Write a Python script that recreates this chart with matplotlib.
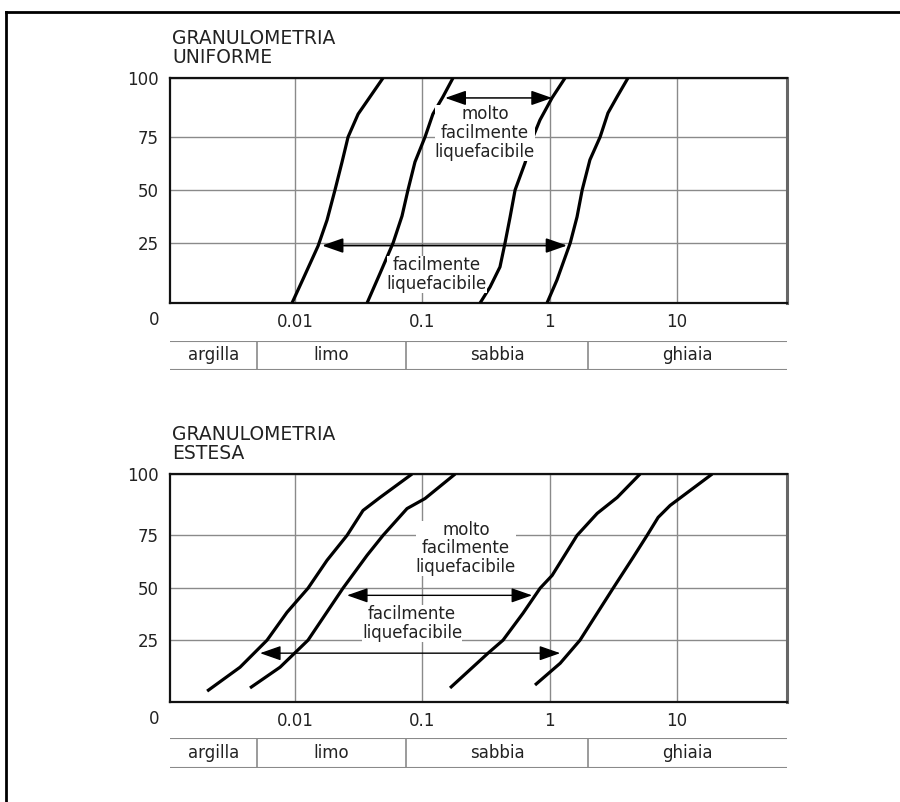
import matplotlib
matplotlib.use('Agg')
import matplotlib.pyplot as plt
from matplotlib.lines import Line2D
import numpy as np

plt.rcParams['font.family'] = ['DejaVu Sans']

# ---------------- data ----------------
x_ticks = [0.01, 0.1, 1, 10]
x_tick_labels = ['0.01', '0.1', '1', '10']
y_ticks = [25, 50, 75]
categories = ['argilla', 'limo', 'sabbia', 'ghiaia']
category_bounds = [0.005, 0.075, 2.0]
x_limits = (10 ** -2.982, 10 ** 1.86)

# top panel: granulometria uniforme
uni_ylim = (-3.3, 102.8)
uni_A_d = [0.00947, 0.01156, 0.01517, 0.01784, 0.0206, 0.0234, 0.0261, 0.0313, 0.0388, 0.0491]
uni_A_p = [-3.3, 8.0, 23.6, 35.8, 50, 63.2, 75, 85.8, 93.9, 102.8]
uni_B_d = [0.0368, 0.0466, 0.0589, 0.0692, 0.0771, 0.0875, 0.105, 0.121, 0.145, 0.174]
uni_B_p = [-3.3, 10.8, 25, 37.7, 50, 63.2, 75, 85.8, 93.9, 102.8]
uni_C_d = [0.284, 0.340, 0.407, 0.446, 0.489, 0.535, 0.640, 0.740, 0.839, 1.043, 1.32]
uni_C_p = [-3.3, 4.2, 13.7, 25, 37.3, 50, 62.7, 75, 83, 93.4, 102.8]
uni_D_d = [0.953, 1.14, 1.45, 1.64, 1.80, 2.07, 2.49, 2.87, 3.38, 4.12]
uni_D_p = [-3.3, 7.5, 25, 37.3, 50, 64.2, 75, 86.3, 93.9, 102.8]
uni_arrow_molto = (0.151, 1.045, 93.4)
uni_arrow_fac = (0.0163, 1.37, 23.8)
uni_text_molto = (0.31, 76.9)
uni_text_fac = (0.130, 10.1)

# bottom panel: granulometria estesa
est_ylim = (-4.5, 104.3)
est_E_d = [0.00204, 0.00370, 0.00603, 0.00865, 0.01265, 0.01783, 0.0256, 0.0342, 0.0465, 0.083]
est_E_p = [0.7, 12.1, 25, 38.3, 49.8, 63.1, 75, 86.9, 93.1, 104.3]
est_F_d = [0.00443, 0.00763, 0.01265, 0.0238, 0.0368, 0.0491, 0.0758, 0.105, 0.181]
est_F_p = [2.2, 12.1, 25, 49.8, 65.5, 75, 87.8, 92.6, 104.3]
est_G_d = [0.165, 0.328, 0.430, 0.618, 0.841, 1.045, 1.64, 2.36, 3.39, 5.13]
est_G_p = [2.2, 18.8, 25, 37.9, 49.8, 55.9, 75, 85.5, 93.1, 104.3]
est_H_d = [0.767, 1.21, 1.73, 3.15, 4.52, 5.82, 7.11, 8.83, 18.9]
est_H_p = [3.6, 14.0, 25, 49.8, 64.5, 75, 83.6, 89.3, 104.3]
est_arrow_molto = (0.0256, 0.728, 46.4)
est_arrow_fac = (0.00531, 1.21, 18.8)
est_text_molto = (0.220, 68.8)
est_text_fac = (0.083, 33.1)

# ---------------- figure ----------------
W, H = 900, 802
fig = plt.figure(figsize=(W / 100, H / 100), dpi=100)

def rect(left, top, right, bottom):
    return [left / W, 1 - bottom / H, (right - left) / W, (bottom - top) / H]

GRID = '#8a8a8a'
TXT = '#222222'
FS = 12

def panel(ax, ylim, curves, arrows, texts, title):
    ax.set_xscale('log')
    ax.set_xlim(*x_limits)
    ax.set_ylim(*ylim)
    ax.set_xticks(x_ticks)
    ax.set_xticklabels(x_tick_labels)
    ax.set_yticks(y_ticks + [ylim[1]])
    ax.set_yticklabels([str(v) for v in y_ticks] + ['100'])
    ax.xaxis.set_minor_locator(matplotlib.ticker.NullLocator())
    ax.tick_params(length=0, labelsize=FS, colors=TXT)
    ax.tick_params(axis='x', pad=7)
    ax.tick_params(axis='y', pad=8)
    ax.grid(True, color=GRID, lw=1.0)
    ax.set_axisbelow(True)
    for s in ['left', 'top', 'bottom']:
        ax.spines[s].set_linewidth(1.6)
        ax.spines[s].set_color('#111111')
    ax.spines['right'].set_linewidth(2.2)
    ax.spines['right'].set_color('#666666')
    for d, p in curves:
        ax.plot(d, p, color='black', lw=2.3, solid_capstyle='butt',
                solid_joinstyle='round', zorder=3)
    for (x0, x1, y), col, lw in arrows:
        ax.annotate('', xy=(x1, y), xytext=(x0, y),
                    arrowprops=dict(arrowstyle='<|-|>,head_length=0.8,head_width=0.28',
                                    mutation_scale=16, color=col, lw=lw,
                                    shrinkA=0, shrinkB=0), zorder=4)
    for (x, y), s in texts:
        ax.text(x, y, s, ha='center', va='center', multialignment='center',
                fontsize=FS, color=TXT, linespacing=1.05, zorder=5,
                bbox=dict(facecolor='white', edgecolor='none', pad=0.0))
    ax.annotate(title, xy=(0, 1), xycoords='axes fraction', xytext=(2, 11),
                textcoords='offset pixels', ha='left', va='bottom',
                fontsize=13.5, color=TXT, linespacing=1.0)
    ax.annotate('0', xy=(0, 0), xycoords='axes fraction', xytext=(-11, -17),
                textcoords='offset pixels', ha='right', va='center',
                fontsize=FS, color=TXT)

def table(ax):
    ax.set_xscale('log')
    ax.set_xlim(*x_limits)
    ax.set_ylim(0, 1)
    ax.axis('off')
    ax.axhline(1, color=GRID, lw=1.5)
    ax.axhline(0, color=GRID, lw=1.5)
    for b in category_bounds:
        ax.axvline(b, color=GRID, lw=1.2)
    edges = [x_limits[0]] + category_bounds + [x_limits[1]]
    for i, c in enumerate(categories):
        xc = np.sqrt(edges[i] * edges[i + 1])
        ax.text(xc, 0.5, c, ha='center', va='center', fontsize=FS, color=TXT)

ax1 = fig.add_axes(rect(170, 78, 786.5, 303))
panel(ax1, uni_ylim,
      [(uni_A_d, uni_A_p), (uni_B_d, uni_B_p), (uni_C_d, uni_C_p), (uni_D_d, uni_D_p)],
      [(uni_arrow_molto, 'black', 1.1), (uni_arrow_fac, 'black', 1.3)],
      [(uni_text_molto, 'molto\nfacilmente\nliquefacibile'),
       (uni_text_fac, 'facilmente\nliquefacibile')],
      'GRANULOMETRIA\nUNIFORME')
t1 = fig.add_axes(rect(170, 341, 786.5, 370))
table(t1)

ax2 = fig.add_axes(rect(170, 474, 786.5, 702))
panel(ax2, est_ylim,
      [(est_E_d, est_E_p), (est_F_d, est_F_p), (est_G_d, est_G_p), (est_H_d, est_H_p)],
      [(est_arrow_molto, 'black', 1.0), (est_arrow_fac, 'black', 1.0)],
      [(est_text_molto, 'molto\nfacilmente\nliquefacibile'),
       (est_text_fac, 'facilmente\nliquefacibile')],
      'GRANULOMETRIA\nESTESA')
t2 = fig.add_axes(rect(170, 738, 786.5, 768))
table(t2)

# outer frame (left and top edges visible)
fig.add_artist(Line2D([6 / W, 6 / W], [0, 1 - 12 / H], transform=fig.transFigure,
                      color='black', lw=2))
fig.add_artist(Line2D([6 / W, 1], [1 - 12 / H, 1 - 12 / H], transform=fig.transFigure,
                      color='black', lw=2))

fig.savefig('out.png', dpi=100)
